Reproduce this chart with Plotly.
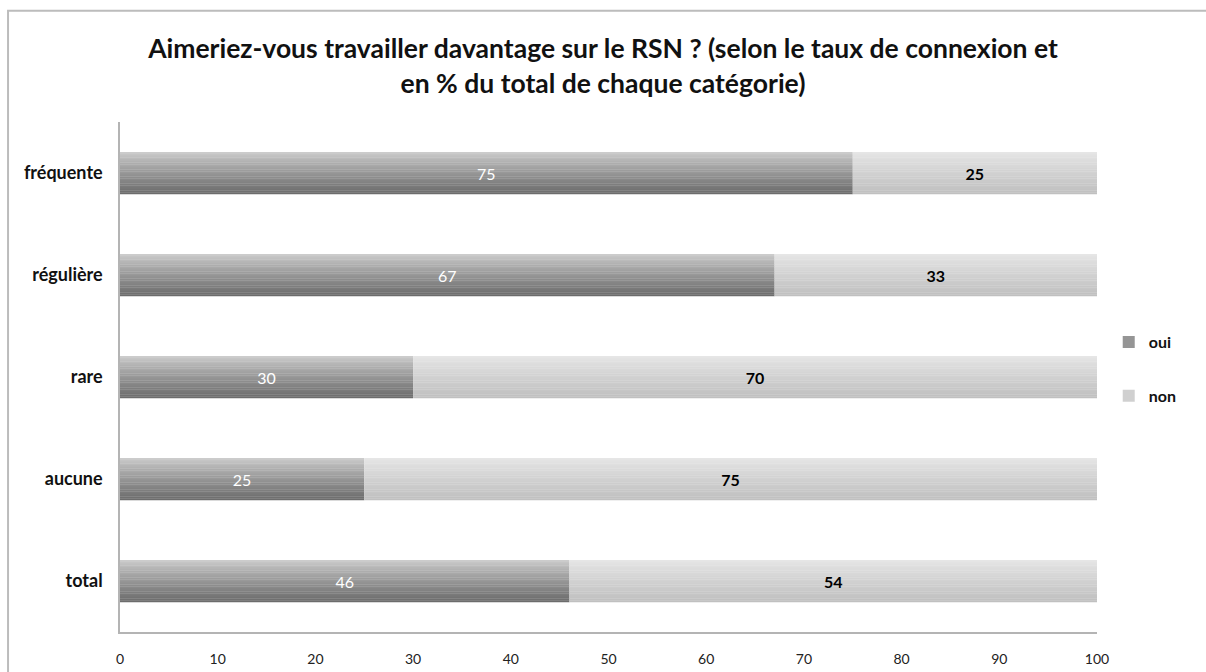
import plotly.graph_objects as go

# ---- data ----
categories = ["fréquente", "régulière", "rare", "aucune", "total"]
oui = [75, 67, 30, 25, 46]
non = [25, 33, 70, 75, 54]
x_tickvals = [0, 10, 20, 30, 40, 50, 60, 70, 80, 90, 100]
x_ticktext = ["0", "10", "20", "30", "40", "50", "60", "70", "80", "90", "100"]
title_text = ("Aimeriez-vous travailler davantage sur le RSN ? (selon le taux de connexion et"
              "<br>en % du total de chaque catégorie)")

FONT = "Lato"
W = 0.41      # bar thickness (category units)
N = 24        # slices used to imitate the vertical gradient


def lerp(c1, c2, t):
    return "rgb({},{},{})".format(*[round(a + (b - a) * t) for a, b in zip(c1, c2)])


series = [
    dict(name="oui", vals=oui, base=[0] * len(oui), top=(204, 204, 204), bot=(108, 108, 108),
         tfont=dict(family=FONT, size=16, color="white"), bold=False),
    dict(name="non", vals=non, base=oui, top=(230, 230, 230), bot=(192, 192, 192),
         tfont=dict(family=FONT, size=16, color="black"), bold=True),
]

fig = go.Figure()
for s in series:
    for i in range(N):
        t = (i / (N - 1)) ** 0.85
        fig.add_trace(go.Bar(
            y=categories, x=s["vals"], base=s["base"], orientation="h",
            width=W / N + 0.003, offset=-W / 2 + i * W / N,
            marker=dict(color=lerp(s["top"], s["bot"], t), line=dict(width=0)),
            name="<b>" + s["name"] + "</b>", legendgroup=s["name"], showlegend=(i == N // 2),
            hoverinfo="skip",
        ))
    txt = [str(v) for v in s["vals"]]
    if s["bold"]:
        txt = ["<b>" + t + "</b>" for t in txt]
    fig.add_trace(go.Bar(
        y=categories, x=s["vals"], base=s["base"], orientation="h",
        width=W, offset=-W / 2,
        marker=dict(color="rgba(0,0,0,0)", line=dict(width=0)),
        text=txt, textposition="inside", insidetextanchor="middle",
        textangle=0, constraintext="none",
        insidetextfont=s["tfont"], textfont=s["tfont"],
        showlegend=False, legendgroup=s["name"], hoverinfo="skip",
    ))

fig.update_layout(
    barmode="overlay",
    width=1206, height=672, autosize=False,
    margin=dict(l=120, r=109, t=122, b=40),
    paper_bgcolor="white", plot_bgcolor="white",
    font=dict(family=FONT, color="#222"),
    title=dict(text="<b>" + title_text + "</b>", x=0.5, xanchor="center",
               y=0.913, yanchor="top", font=dict(family=FONT, size=26.5, color="#111")),
    legend=dict(x=1.012, xanchor="left", y=0.602, yanchor="top",
                traceorder="grouped", tracegroupgap=30,
                font=dict(family=FONT, size=16, color="#111"),
                bgcolor="rgba(0,0,0,0)"),
    showlegend=True,
)
fig.update_xaxes(
    range=[0, 100], tickvals=x_tickvals, ticktext=x_ticktext, automargin=False,
    showgrid=False, zeroline=False, showline=True, linecolor="#b4b4b4", linewidth=1.5,
    ticks="", ticklabelstandoff=13, tickfont=dict(family=FONT, size=14, color="#222"),
)
fig.update_yaxes(
    categoryorder="array", categoryarray=categories, range=[4.5, -0.5], automargin=False,
    showgrid=False, zeroline=False, showline=True, linecolor="#b4b4b4", linewidth=1.5,
    ticks="", ticklabelstandoff=12, tickprefix="<b>", ticksuffix="</b>",
    tickfont=dict(family=FONT, size=18, color="#111"),
)
# outer chart frame
fig.add_shape(type="rect", xref="paper", yref="paper",
              x0=-0.1146, x1=1.2, y0=-0.2, y1=1.218,
              line=dict(color="#bcbcbc", width=2), fillcolor="rgba(0,0,0,0)", layer="below")

fig.write_html("out.html", config={"displayModeBar": False},
               post_script="document.body.style.margin='0';")
